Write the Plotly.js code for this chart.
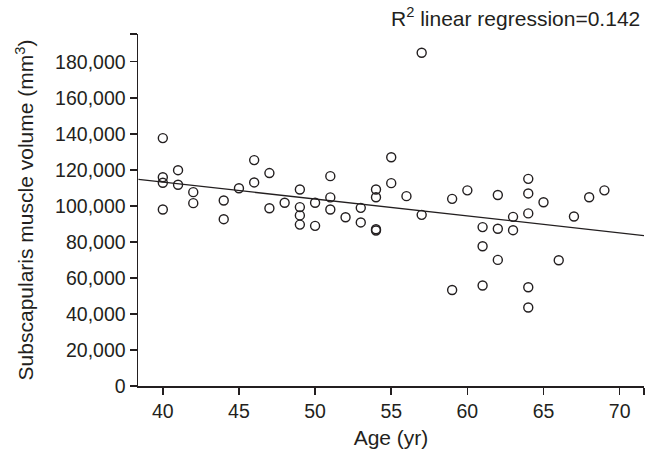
<!DOCTYPE html>
<html>
<head>
<meta charset="utf-8">
<script src="https://cdn.plot.ly/plotly-3.0.1.min.js"></script>
<style>html,body{margin:0;padding:0;background:#fff;}#chart{width:648px;height:454px;}</style>
</head>
<body>
<div id="chart"></div>
<script>
// Data
var ages = [40,40,40,40, 41,41, 42,42, 44,44, 45, 46,46, 47,47, 48,
            49,49,49,49, 50,50, 51,51,51, 52, 53,53, 54,54,54,54,
            55,55, 56, 57,57, 59,59, 60, 61,61,61, 62,62,62, 63,63,
            64,64,64,64,64, 65, 66, 67, 68, 69];
var volumes = [137600,115900,112800,98000, 119800,111700, 107600,101500, 103000,92600, 109800, 125400,113000, 118200,98700, 101700,
               109100,99300,94700,89600, 101700,88900, 116500,104700,98000, 93700, 98900,90800, 109100,104800,87000,86300,
               127000,112600, 105400, 185000,95000, 103900,53300, 108600, 88200,77600,55800, 106000,87300,70000, 93900,86500,
               115000,106900,95800,54800,43600, 102000, 69800, 94100, 104800, 108600];
// Regression line end points
var fitX = [38.4, 71.6];
var fitY = [114700, 83500];
// Tick labels
var xTickVals = [40,45,50,55,60,65,70];
var xTickText = ['40','45','50','55','60','65','70'];
var xEndTick = [71.6];
var yTickVals = [0,20000,40000,60000,80000,100000,120000,140000,160000,180000];
var yTickText = ['0','20,000','40,000','60,000','80,000','100,000','120,000','140,000','160,000','180,000'];
var yEndTick = [195400];

var ink = '#231f20';
var fam = 'Liberation Sans, Arial, sans-serif';
var tickFont = {family:fam, size:19.5, color:ink};
var titleFont = {family:fam, size:21, color:ink};

var traces = [
  {x: fitX, y: fitY, type:'scatter', mode:'lines', line:{color:ink, width:1.3}, hoverinfo:'skip'},
  {x: ages, y: volumes, type:'scatter', mode:'markers',
   marker:{symbol:'circle-open', size:9, color:ink, line:{width:1.4, color:ink}}}
];

var layout = {
  width:648, height:454,
  margin:{l:138, r:4, t:34, b:68},
  paper_bgcolor:'#fff', plot_bgcolor:'#fff',
  showlegend:false,
  font:tickFont,
  xaxis:{
    range:[38.37, 71.6], showgrid:false, zeroline:false,
    showline:true, linecolor:ink, linewidth:1.5,
    ticks:'outside', ticklen:7, tickwidth:1.5, tickcolor:ink,
    tickmode:'array', tickvals:xTickVals, ticktext:xTickText, tickfont:tickFont,
    minor:{tickmode:'array', tickvals:xEndTick, ticks:'outside', ticklen:7, tickwidth:1.5, tickcolor:ink, showgrid:false},
    title:{text:'Age (yr)', font:titleFont, standoff:9}
  },
  yaxis:{
    range:[0, 195400], showgrid:false, zeroline:false,
    showline:true, linecolor:ink, linewidth:1.5,
    ticks:'outside', ticklen:7, tickwidth:1.5, tickcolor:ink,
    tickmode:'array', tickvals:yTickVals, ticktext:yTickText, tickfont:tickFont,
    ticksuffix:'\u00a0',
    minor:{tickmode:'array', tickvals:yEndTick, ticks:'outside', ticklen:7, tickwidth:1.5, tickcolor:ink, showgrid:false},
    title:{text:'Subscapularis muscle volume (mm<sup>3</sup>)', font:titleFont, standoff:15}
  },
  annotations:[{
    xref:'paper', yref:'paper', x:1, y:1, xanchor:'right', yanchor:'bottom',
    yshift:2, xshift:-2, showarrow:false,
    text:'R<sup>2</sup> linear regression=0.142', font:titleFont
  }]
};

Plotly.newPlot('chart', traces, layout, {displayModeBar:false, staticPlot:true});
</script>
</body>
</html>
